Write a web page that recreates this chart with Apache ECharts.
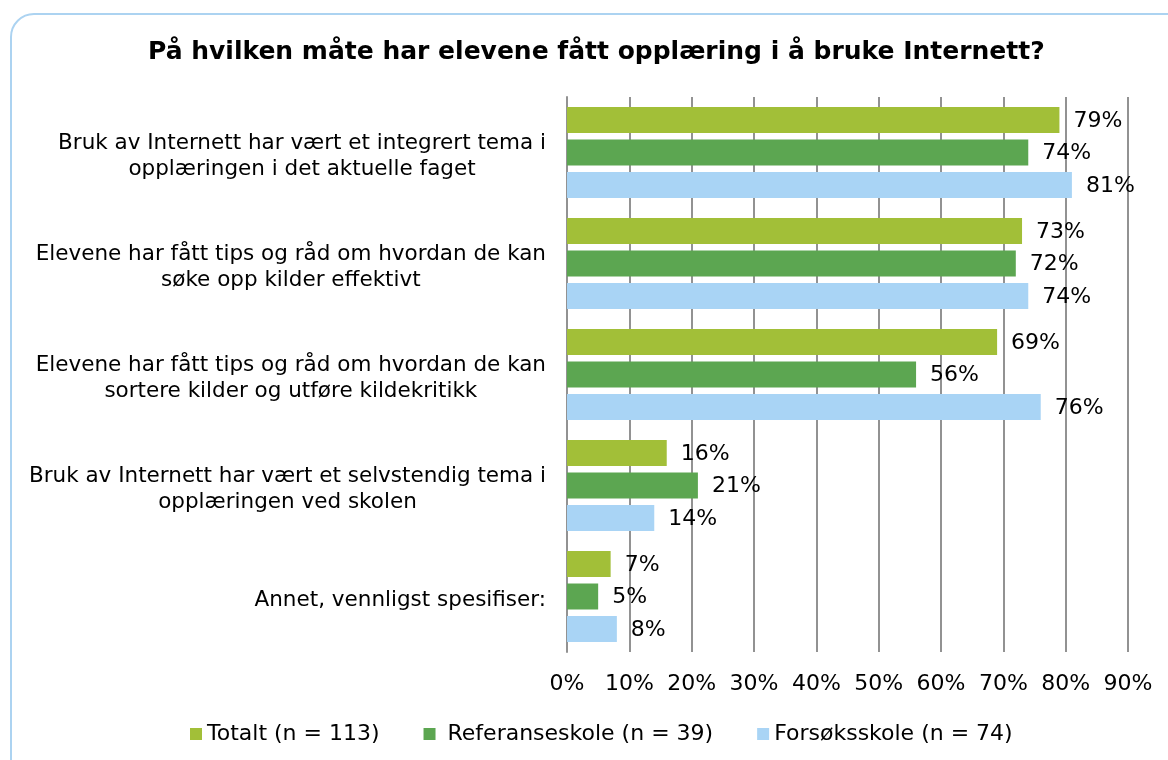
<!DOCTYPE html>
<html>
<head>
<meta charset="utf-8">
<script src="https://cdn.jsdelivr.net/npm/echarts@6/dist/echarts.min.js"></script>
<style>
  html, body { margin: 0; padding: 0; background: #fff; overflow: hidden; }
  #frame {
    position: absolute; left: 10px; top: 13px;
    width: 1220px; height: 800px;
    border: 2px solid #acd3f1; border-radius: 24px;
  }
  #chart { position: absolute; left: 0; top: 0; width: 1168px; height: 760px; }
</style>
</head>
<body>
<div id="frame"></div>
<div id="chart"></div>
<script>
// svar per kategori (prosent)
const categories = [
    'Bruk av Internett har vært et integrert tema i\nopplæringen i det aktuelle faget',
    'Elevene har fått tips og råd om hvordan de kan\nsøke opp kilder effektivt',
    'Elevene har fått tips og råd om hvordan de kan\nsortere kilder og utføre kildekritikk',
    'Bruk av Internett har vært et selvstendig tema i\nopplæringen ved skolen',
    'Annet, vennligst spesifiser:'
]
const seriesNames = ['Totalt (n = 113)', 'Referanseskole (n = 39)', 'Forsøksskole (n = 74)']
const totalt = [79, 73, 69, 16, 7]
const referanse = [74, 72, 56, 21, 5]
const forsok = [81, 74, 76, 14, 8]
const colors = ['#a2bf38', '#5ca651', '#a9d4f5']

const font = 'DejaVu Sans, Verdana, sans-serif'
const chart = echarts.init(document.getElementById('chart'), null, { renderer: 'canvas' })

const makeSeries = (name, data, color) => ({
    name: name,
    type: 'bar',
    data: data,
    barWidth: 26,
    barGap: '25%',
    itemStyle: { color: color },
    label: {
        show: true,
        position: 'right',
        distance: 14,
        offset: [0, 1],
        formatter: '{c}%',
        color: '#000',
        fontFamily: font,
        fontSize: 22
    }
})

const option = {
    backgroundColor: 'transparent',
    animation: false,
    color: colors,
    title: {
        text: 'På hvilken måte har elevene fått opplæring i å bruke Internett?',
        left: 143,
        top: 35,
        textStyle: { fontFamily: font, fontSize: 25, fontWeight: 'bold', color: '#000' }
    },
    legend: {
        top: 718,
        left: 185,
        itemWidth: 12,
        itemHeight: 12,
        itemGap: 44,
        icon: 'rect',
        // Excel-legenden har litt ekstra luft foran "Referanseskole"
        formatter: (n) => n === seriesNames[1] ? ' ' + n : n,
        textStyle: { fontFamily: font, fontSize: 22, color: '#000' },
        data: seriesNames
    },
    grid: { left: 567, right: 40, top: 97, bottom: 108 },
    xAxis: {
        type: 'value',
        min: 0,
        max: 90,
        interval: 10,
        axisLine: { show: false },
        axisTick: { show: false },
        axisLabel: {
            formatter: '{value}%',
            margin: 21,
            color: '#000',
            fontFamily: font,
            fontSize: 22
        },
        splitLine: { lineStyle: { color: '#929292', width: 2 } }
    },
    yAxis: {
        type: 'category',
        inverse: true,
        data: categories,
        axisTick: { show: false },
        axisLine: { show: true, lineStyle: { color: '#929292', width: 2 } },
        axisLabel: {
            margin: 21,
            color: '#000',
            padding: [8, 0, 0, 0],
            formatter: (v) => v.split('\n').map(l => '{c|' + l + '}').join('\n'),
            rich: {
                c: { align: 'center', fontFamily: font, fontSize: 21.5, lineHeight: 26, color: '#000' }
            }
        }
    },
    series: [
        makeSeries(seriesNames[0], totalt, colors[0]),
        makeSeries(seriesNames[1], referanse, colors[1]),
        makeSeries(seriesNames[2], forsok, colors[2])
    ]
}
chart.setOption(option)
</script>
</body>
</html>
